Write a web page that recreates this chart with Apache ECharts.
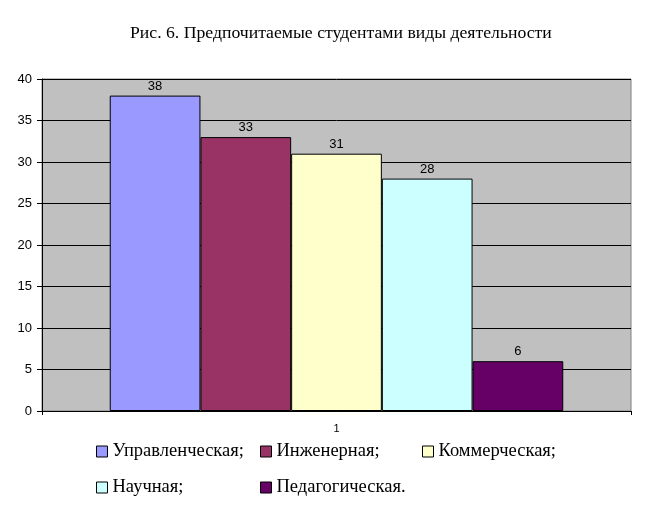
<!DOCTYPE html>
<html>
<head>
<meta charset="utf-8">
<script src="https://cdn.jsdelivr.net/npm/echarts@6/dist/echarts.min.js"></script>
<style>
	html, body { margin: 0; padding: 0; background: #fff; }
	#chart { width: 647px; height: 520px; }
</style>
</head>
<body>
<div id="chart"></div>
<script>
// данные диаграммы
var categories = ["1"];
var seriesNames = ["Управленческая;", "Инженерная;", "Коммерческая;", "Научная;", "Педагогическая."];
var seriesValues = [38, 33, 31, 28, 6];
var seriesColors = ["#9999FF", "#993366", "#FFFFCC", "#CCFFFF", "#660066"];
var yTicks = [0, 5, 10, 15, 20, 25, 30, 35, 40];

// позиции легенды (колонки/строки как в Excel)
var legendPos = [[96, 442], [260, 442], [422, 442], [96, 478], [260, 478]];

var mycharts = echarts.init(document.getElementById('chart'));

var series = [];
var legends = [];
for (var i = 0, n = seriesNames.length; i < n; i++) {
	series.push({
		name: seriesNames[i],
		type: 'bar',
		data: [seriesValues[i]],
		barGap: '0%',
		barCategoryGap: '23%',
		itemStyle: {
			color: seriesColors[i],
			borderColor: '#000',
			borderWidth: 1
		},
		label: {
			show: true,
			position: 'top',
			distance: 3,
			color: '#000',
			fontFamily: 'Liberation Sans',
			fontSize: 13
		}
	});
	legends.push({
		data: [seriesNames[i]],
		left: legendPos[i][0],
		top: legendPos[i][1],
		padding: 0,
		icon: 'rect',
		itemWidth: 11,
		itemHeight: 11,
		selectedMode: false,
		itemStyle: { borderColor: '#000', borderWidth: 1 },
		textStyle: {
			fontFamily: 'Liberation Serif',
			fontSize: 18.5,
			color: '#000'
		}
	});
}

var option = {
	animation: false,
	backgroundColor: '#fff',
	title: {
		text: 'Рис. 6. Предпочитаемые студентами виды деятельности',
		left: 130,
		top: 24,
		padding: 0,
		textStyle: {
			fontFamily: 'Liberation Serif',
			fontSize: 17.7,
			fontWeight: 'normal',
			color: '#000'
		}
	},
	legend: legends,
	grid: {
		left: 42,
		right: 16,
		top: 79,
		bottom: 109,
		show: true,
		backgroundColor: '#C0C0C0',
		borderColor: '#808080',
		borderWidth: 1
	},
	xAxis: {
		type: 'category',
		data: categories,
		axisLine: { lineStyle: { color: '#000', width: 1 } },
		axisTick: { show: true, alignWithLabel: false, length: 4, lineStyle: { color: '#000' } },
		axisLabel: {
			color: '#000',
			fontFamily: 'Liberation Sans',
			fontSize: 11,
			margin: 12
		}
	},
	yAxis: {
		type: 'value',
		min: yTicks[0],
		max: yTicks[yTicks.length - 1],
		interval: 5,
		axisLine: { show: true, lineStyle: { color: '#000', width: 1 } },
		axisTick: { show: true, length: 5, lineStyle: { color: '#000' } },
		axisLabel: {
			color: '#000',
			fontFamily: 'Liberation Sans',
			fontSize: 13,
			margin: 10
		},
		splitLine: { show: true, lineStyle: { color: '#000', width: 1 } }
	},
	series: series
};

mycharts.setOption(option);
</script>
</body>
</html>
